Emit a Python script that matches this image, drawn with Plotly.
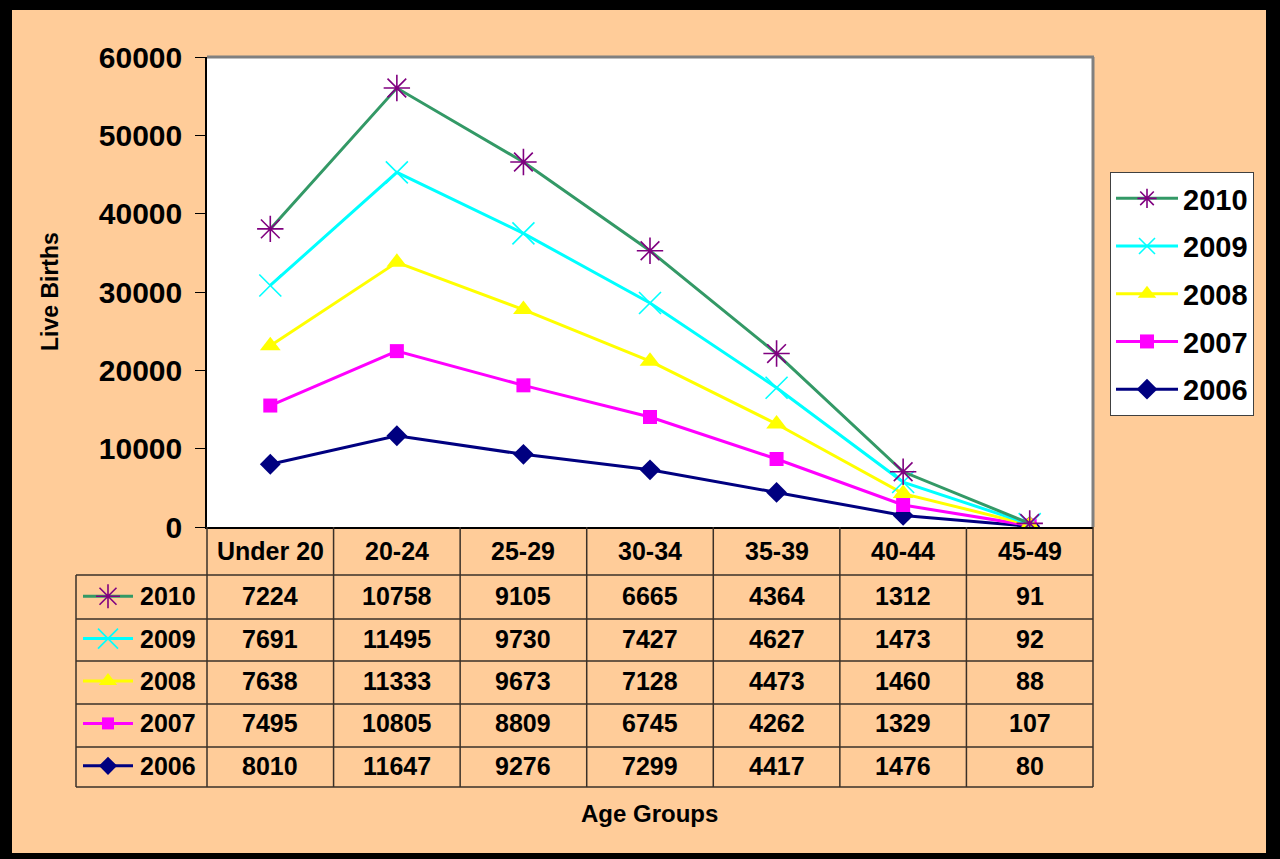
import plotly.graph_objects as go

# ---------------- data ----------------
age_groups = ["Under 20", "20-24", "25-29", "30-34", "35-39", "40-44", "45-49"]
years = ["2006", "2007", "2008", "2009", "2010"]
births_2006 = [8010, 11647, 9276, 7299, 4417, 1476, 80]
births_2007 = [7495, 10805, 8809, 6745, 4262, 1329, 107]
births_2008 = [7638, 11333, 9673, 7128, 4473, 1460, 88]
births_2009 = [7691, 11495, 9730, 7427, 4627, 1473, 92]
births_2010 = [7224, 10758, 9105, 6665, 4364, 1312, 91]
series = [births_2006, births_2007, births_2008, births_2009, births_2010]
y_ticks = [0, 10000, 20000, 30000, 40000, 50000, 60000]

# ---------------- styles ----------------
W, H = 1280, 859
PEACH = "#FFCC99"
FONT = "Liberation Sans"
line_colors = {"2006": "#000080", "2007": "#FF00FF", "2008": "#FFFF00",
               "2009": "#00FFFF", "2010": "#339966"}
marker_colors = {"2006": "#000080", "2007": "#FF00FF", "2008": "#FFFF00",
                 "2009": "#00FFFF", "2010": "#800080"}
symbols = {"2006": "diamond", "2007": "square", "2008": "triangle-up",
           "2009": "x-thin-open", "2010": "asterisk-open"}
msizes = {"2006": 16, "2007": 14, "2008": 18, "2009": 22, "2010": 22}
legend_rank = {"2010": 1, "2009": 2, "2008": 3, "2007": 4, "2006": 5}


def px(x):
    return x / W


def py(y):
    return (H - y) / H


# plot geometry (pixels)
PL, PR, PT, PB = 207, 1093, 57, 527
TBL_L, HDR_B = 76, 575
row_edges = [575, 619, 661, 704, 747, 787]
TBL_B = row_edges[-1]


def is_open(yr):
    return yr in ("2009", "2010")


fig = go.Figure()

# main stacked lines
for yr, vals in zip(years, series):
    fig.add_trace(go.Scatter(
        x=age_groups, y=vals, name=yr, stackgroup="births", fill="none",
        mode="lines+markers", legendgroup=yr, legendrank=legend_rank[yr],
        line=dict(color=line_colors[yr], width=3),
        marker=dict(symbol=symbols[yr], size=msizes[yr], color=marker_colors[yr],
                    line=dict(color=marker_colors[yr], width=1.6 if is_open(yr) else 0)),
        xaxis="x", yaxis="y",
    ))

# legend keys inside the data table (rows: 2010 top -> 2006 bottom)
row_index = {yr: i for i, yr in enumerate(years)}  # 2006 -> 0 (bottom)
for yr in years:
    i = row_index[yr]
    fig.add_trace(go.Scatter(
        x=[0, 1], y=[i, i], mode="lines", showlegend=False,
        line=dict(color=line_colors[yr], width=3),
        xaxis="x2", yaxis="y2", hoverinfo="skip", cliponaxis=False,
    ))
    fig.add_trace(go.Scatter(
        x=[0.5], y=[i], mode="markers", showlegend=False,
        marker=dict(symbol=symbols[yr], size=msizes[yr] - 2, color=marker_colors[yr],
                    opacity=1,
                    line=dict(color=marker_colors[yr], width=1.6 if is_open(yr) else 0)),
        xaxis="x2", yaxis="y2", hoverinfo="skip", cliponaxis=False,
    ))

shapes = []
# white plot area (plot_bgcolor is peach so the table-key subplot stays peach)
shapes.append(dict(type="rect", xref="x domain", yref="y domain", x0=0, x1=1, y0=0, y1=1,
                   fillcolor="white", line=dict(width=0), layer="below"))
# black frame
for x0, y0, x1, y1 in [(0, 0, 12, H), (0, 0, W, 10), (1266, 0, W, H), (0, 853, W, H)]:
    shapes.append(dict(type="rect", xref="paper", yref="paper",
                       x0=px(x0), x1=px(x1), y0=py(y0), y1=py(y1),
                       fillcolor="black", line=dict(width=0), layer="above"))
# plot-area grey border (top & right)
shapes.append(dict(type="line", xref="paper", yref="paper", x0=px(PL), x1=px(PR + 1),
                   y0=py(PT), y1=py(PT), line=dict(color="#808080", width=3)))
shapes.append(dict(type="line", xref="paper", yref="paper", x0=px(PR), x1=px(PR),
                   y0=py(PT), y1=py(PB), line=dict(color="#808080", width=3)))

TL = "#3a3028"
# table horizontal lines
for ry in row_edges:
    shapes.append(dict(type="line", xref="paper", yref="paper", x0=px(TBL_L), x1=px(PR),
                       y0=py(ry), y1=py(ry), line=dict(color=TL, width=1.5)))
# table vertical lines
shapes.append(dict(type="line", xref="paper", yref="paper", x0=px(TBL_L), x1=px(TBL_L),
                   y0=py(HDR_B), y1=py(TBL_B), line=dict(color=TL, width=1.5)))
ncat = len(age_groups)
for k in range(ncat + 1):
    xx = PL + (PR - PL) * k / ncat
    shapes.append(dict(type="line", xref="paper", yref="paper", x0=px(xx), x1=px(xx),
                       y0=py(PB), y1=py(TBL_B), line=dict(color=TL, width=1.5)))

annotations = []
cell_font = dict(family=FONT, size=25, color="black", weight="bold")
# header row (age groups)
for cat in age_groups:
    annotations.append(dict(x=cat, xref="x", y=py(551), yref="paper", text=cat,
                            showarrow=False, xanchor="center", yanchor="middle",
                            font=cell_font))
# data rows
for yr, vals in zip(years, series):
    i = row_index[yr]
    annotations.append(dict(x=px(138), xref="paper", y=i, yref="y2", text=yr,
                            showarrow=False, xanchor="left", yanchor="middle",
                            font=cell_font))
    for cat, v in zip(age_groups, vals):
        annotations.append(dict(x=cat, xref="x", y=i, yref="y2", text=str(v),
                                showarrow=False, xanchor="center", yanchor="middle",
                                font=cell_font))
# axis titles
annotations.append(dict(x=px(50), y=py(292), xref="paper", yref="paper", text="Live Births",
                        textangle=-90, showarrow=False, xanchor="center", yanchor="middle",
                        font=dict(family=FONT, size=23, color="black", weight="bold")))
annotations.append(dict(x=px(649), y=py(813), xref="paper", yref="paper", text="Age Groups",
                        showarrow=False, xanchor="center", yanchor="middle",
                        font=dict(family=FONT, size=24, color="black", weight="bold")))

fig.update_layout(
    template="none",
    width=W, height=H, autosize=False,
    margin=dict(l=0, r=0, t=0, b=0, pad=0, autoexpand=False),
    paper_bgcolor=PEACH, plot_bgcolor=PEACH,
    showlegend=True,
    hovermode=False,
    legend=dict(x=px(1110), y=py(172), xanchor="left", yanchor="top",
                bgcolor="white", bordercolor="#404040", borderwidth=1,
                traceorder="grouped", tracegroupgap=7,
                font=dict(family=FONT, size=29, color="black", weight="bold"),
                itemwidth=62),
    xaxis=dict(domain=[px(PL), px(PR)], type="category", range=[-0.5, 6.5],
               showticklabels=False, ticks="", showgrid=False, zeroline=False,
               showline=True, linecolor="black", linewidth=1.5, anchor="y",
               automargin=False),
    yaxis=dict(domain=[py(PB), py(PT)], range=[0, 60000], tickvals=y_ticks,
               ticktext=[str(t) for t in y_ticks], ticks="outside", ticklen=10,
               tickcolor="black", tickwidth=1, showgrid=False, zeroline=False,
               showline=True, linecolor="black", linewidth=1.5, anchor="x",
               ticklabelstandoff=7, automargin=False,
               tickfont=dict(family=FONT, size=30, color="black", weight="bold")),
    xaxis2=dict(domain=[px(83), px(133)], range=[0, 1], visible=False, anchor="y2",
                fixedrange=True, automargin=False),
    yaxis2=dict(domain=[py(TBL_B), py(HDR_B)], range=[-0.5, 4.5], visible=False,
                anchor="x2", fixedrange=True, automargin=False),
    shapes=shapes, annotations=annotations,
    font=dict(family=FONT),
)

fig.write_html(
    "out.html",
    config={"displayModeBar": False},
    post_script="document.body.style.margin='0';document.body.style.overflow='hidden';",
)
